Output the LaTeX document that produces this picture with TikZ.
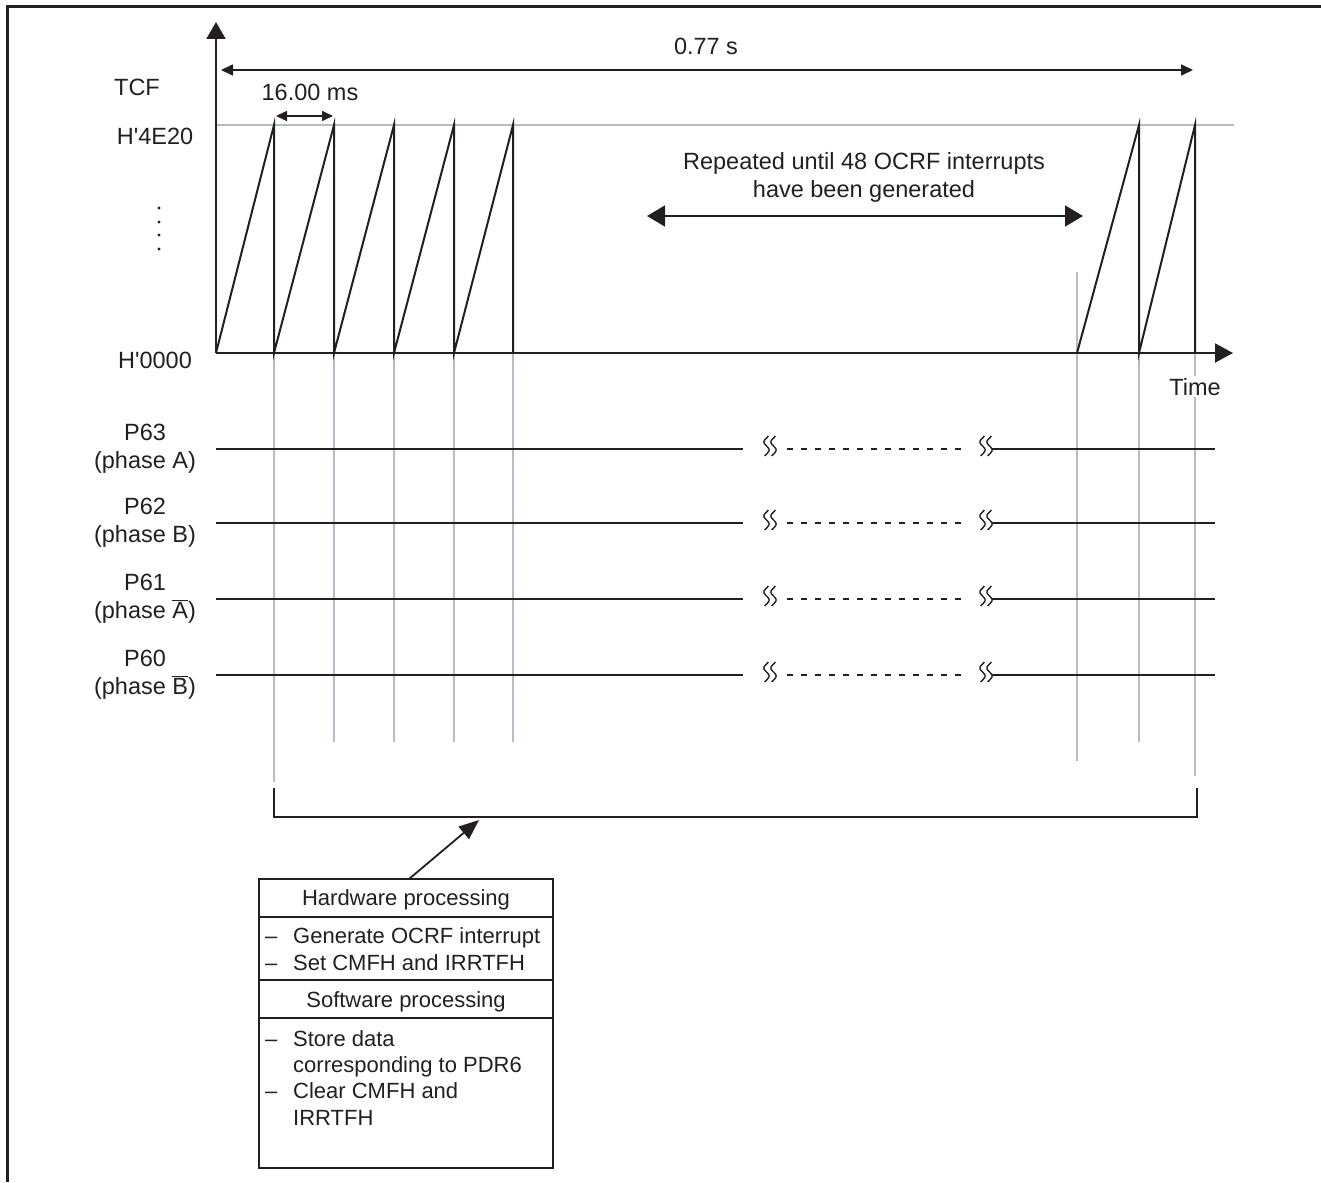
\documentclass[tikz,border=0pt]{standalone}
\usepackage{fontspec}
\setmainfont{Liberation Sans}
\usetikzlibrary{arrows.meta}
\definecolor{ink}{HTML}{231F20}
\definecolor{grayline}{HTML}{B6BCC4}
\tikzset{
  blk/.style={line width=2pt,draw=ink},
  gry/.style={line width=1.6pt,draw=grayline},
  lbl/.style={font=\fontsize{23.5}{28}\selectfont,inner sep=0pt,anchor=base,text=ink},
  boxtxt/.style={font=\fontsize{22}{26.5}\selectfont,inner sep=0pt,anchor=base west,text=ink},
  boxhead/.style={font=\fontsize{22}{26.5}\selectfont,inner sep=0pt,anchor=base,text=ink},
  brk/.pic={\foreach \dx in {-3.5,3.5}{\draw[line width=1.4pt,ink] plot[domain=-10:10,smooth,samples=21] ({\dx+2.6*sin(\x*22.5)},\x);}},
}
\begin{document}
\begin{tikzpicture}[x=1pt,y=-1pt]
\useasboundingbox (0,0) rectangle (1321,1182);
% frame
\coordinate (fbl) at (7,1182); \coordinate (ftl) at (7,7); \coordinate (ftr) at (1321,7);
\draw[line width=3pt,ink] (fbl) -- (ftl) -- (ftr);

% gray guides
\coordinate (g1a) at (216,125); \coordinate (g1b) at (1234,125);
\draw[gry] (g1a) -- (g1b);
\foreach \xx/\ya/\yb in {274/353/782,334/353/742,394/353/742,454/353/742,513/353/742,1077/272/761,1139/353/742,1195/353/776}{
  \coordinate (gv-\xx-a) at (\xx,\ya); \coordinate (gv-\xx-b) at (\xx,\yb);
  \draw[gry] (gv-\xx-a) -- (gv-\xx-b);
}

% axes
\coordinate (O) at (216,353);
\coordinate (ytip) at (216,22);
\coordinate (xtip) at (1233,353);
\draw[blk,-{Triangle[length=17pt,width=19pt]}] (O) -- (ytip);
\draw[blk,-{Triangle[length=18pt,width=19pt]}] (O) -- (xtip);

% sawtooth
\draw[blk,line join=miter] (O) -- (274,125) -- (274,353) -- (334,125) -- (334,353) -- (394,125) -- (394,353) -- (454,125) -- (454,353) -- (513,125) -- (513,353);
\draw[blk,line join=miter] (1077,353) -- (1139,125) -- (1139,353) -- (1195,125) -- (1195,353);

% dimension arrows
\coordinate (d1a) at (221,70); \coordinate (d1b) at (1193,70);
\draw[line width=1.6pt,ink,{Triangle[length=12pt,width=11pt]}-{Triangle[length=12pt,width=11pt]}] (d1a) -- (d1b);
\node[lbl] (t077) at (706,55) {0.77 s};
\coordinate (d2a) at (276,116); \coordinate (d2b) at (333,116);
\draw[line width=1.6pt,ink,{Triangle[length=11pt,width=10pt]}-{Triangle[length=11pt,width=10pt]}] (d2a) -- (d2b);
\node[lbl] (t16) at (310,101) {16.00 ms};
\coordinate (d3a) at (647,216); \coordinate (d3b) at (1083,216);
\draw[line width=1.8pt,ink,{Triangle[length=18pt,width=21pt]}-{Triangle[length=18pt,width=21pt]}] (d3a) -- (d3b);
\node[lbl] (rep1) at (864,170) {Repeated until 48 OCRF interrupts};
\node[lbl] (rep2) at (864,198) {have been generated};

% axis labels
\node[lbl] (tcf) at (137,96) {TCF};
\node[lbl] (h4e) at (155,145) {H\textquotesingle 4E20};
\node[lbl] (h00) at (155,368) {H\textquotesingle 0000};
\node[lbl,fill=white,inner sep=2pt] (time) at (1195,395) {Time};
\foreach \yy [count=\i] in {208,222,235,249}{\fill[ink] (159,\yy) circle (1.7pt) coordinate (dot\i);}

% signal lines
\foreach \yy/\pn/\ph [count=\i] in {449/P63/A,523/P62/B,599/P61/{$\overline{\mbox{A}}$},675/P60/{$\overline{\mbox{B}}$}}{
  \coordinate (s\i a) at (216,\yy); \coordinate (s\i b) at (743,\yy);
  \coordinate (s\i c) at (787,\yy); \coordinate (s\i d) at (967,\yy);
  \coordinate (s\i e) at (992,\yy); \coordinate (s\i f) at (1215,\yy);
  \draw[blk] (s\i a) -- (s\i b);
  \draw[line width=1.2pt,ink,dash pattern=on 6pt off 8pt] (s\i c) -- (s\i d);
  \draw[blk] (s\i e) -- (s\i f);
  \pic at (770,\yy-3) {brk};
  \pic at (986,\yy-3) {brk};
  \node[lbl] (pn\i) at (145,\yy-9) {\pn};
  \node[lbl] (ph\i) at (145,\yy+19) {(phase \ph)};
}

% bracket
\coordinate (br1) at (274,788); \coordinate (br2) at (274,817);
\coordinate (br3) at (1197,817); \coordinate (br4) at (1197,788);
\draw[blk,line join=miter] (br1) -- (br2) -- (br3) -- (br4);

% box
\coordinate (btl) at (259,879); \coordinate (bbr) at (553,1168);
\draw[line width=1.8pt,ink] (btl) rectangle (bbr);
\foreach \yy in {917,980,1018}{\coordinate (dv\yy a) at (259,\yy); \coordinate (dv\yy b) at (553,\yy); \draw[line width=1.8pt,ink] (dv\yy a) -- (dv\yy b);}
\coordinate (arS) at (409,879); \coordinate (arE) at (479,820);
\draw[line width=1.8pt,ink,-{Triangle[length=20pt,width=16pt]}] (arS) -- (arE);

\node[boxhead] (hw) at (406,905) {Hardware processing};
\node[boxtxt] (hw1) at (265,943) {\makebox[28pt][l]{–}Generate OCRF interrupt};
\node[boxtxt] (hw2) at (265,970) {\makebox[28pt][l]{–}Set CMFH and IRRTFH};
\node[boxhead] (sw) at (406,1007) {Software processing};
\node[boxtxt] (sw1) at (265,1046) {\makebox[28pt][l]{–}Store data};
\node[boxtxt] (sw2) at (265,1072) {\makebox[28pt][l]{}corresponding to PDR6};
\node[boxtxt] (sw3) at (265,1098) {\makebox[28pt][l]{–}Clear CMFH and};
\node[boxtxt] (sw4) at (265,1125) {\makebox[28pt][l]{}IRRTFH};
\end{tikzpicture}
\end{document}
